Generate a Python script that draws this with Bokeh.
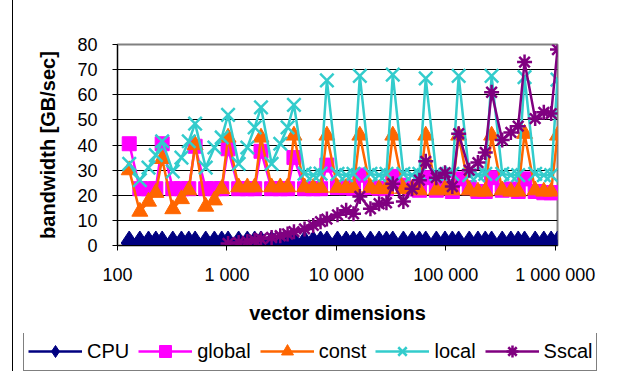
from bokeh.plotting import figure
from bokeh.models import Range1d, FixedTicker, Legend, Div
from bokeh.layouts import column, row
from bokeh.embed import file_html
from bokeh.resources import INLINE

# vector dimensions (x values)
dims = [128, 160, 192, 224, 256, 320, 384, 448, 512, 640, 768, 896,
        1024, 1280, 1536, 1792, 2048, 2560, 3072, 3584, 4096, 5120, 6144, 7168,
        8192, 10240, 12288, 14336, 16384, 20480, 24576, 28672,
        32768, 40960, 49152, 57344, 65536, 81920, 98304, 114688,
        131072, 163840, 196608, 229376, 262144, 327680, 393216, 458752,
        524288, 655360, 786432, 917504, 1048576]

cpu = [1.0, 1.0, 1.0, 1.0, 1.0, 1.0, 1.0, 1.0, 1.0, 1.0, 1.0, 1.0,
       1.0, 1.0, 1.0, 1.0, 1.0, 1.0, 1.0, 1.0, 1.0, 1.0, 1.0, 1.0,
       1.0, 1.0, 1.0, 1.0, 1.0, 1.0, 1.0, 1.0,
       1.0, 1.0, 1.0, 1.0, 1.0, 1.0, 1.0, 1.0,
       1.0, 1.0, 1.0, 1.0, 1.0, 1.0, 1.0, 1.0,
       1.0, 1.0, 1.0, 1.0, 1.0]

global_bw = [40.5, 22.6, 22.6, 22.6, 40.5, 22.6, 22.6, 22.6, 39.5, 22.6, 22.6, 22.6,
             38.5, 22.6, 22.6, 22.6, 37.5, 22.6, 22.6, 22.6, 35.0, 22.6, 22.6, 22.6,
             32.0, 23.0, 23.0, 22.8, 28.0, 23.0, 22.8, 22.6,
             27.5, 24.0, 22.5, 22.0, 27.0, 22.0, 23.0, 21.5,
             26.5, 23.0, 21.5, 21.5, 27.0, 22.0, 22.5, 21.5,
             26.5, 21.5, 21.0, 21.0, 21.0]

const_bw = [30.0, 13.5, 17.5, 21.0, 34.5, 14.5, 18.5, 22.0, 40.0, 15.5, 18.0, 22.5,
            43.0, 23.2, 23.2, 23.2, 43.0, 23.2, 23.2, 23.2, 43.8, 23.2, 23.0, 23.0,
            43.8, 23.0, 23.0, 23.0, 43.8, 23.0, 22.5, 22.5,
            43.8, 22.5, 22.5, 22.0, 43.8, 22.0, 22.5, 22.0,
            43.8, 22.0, 21.5, 21.5, 43.8, 22.0, 21.5, 21.5,
            44.5, 22.0, 21.5, 21.5, 43.8]

local_bw = [32.5, 26.0, 31.0, 36.0, 41.5, 29.5, 35.0, 41.5, 48.5, 31.0, 39.0, 43.0,
            52.0, 32.5, 39.0, 47.0, 55.0, 32.5, 40.5, 47.0, 56.0, 28.6, 28.0, 28.6,
            65.7, 28.5, 28.0, 28.5, 67.5, 28.5, 28.0, 28.5,
            68.0, 28.5, 28.0, 28.5, 66.5, 28.5, 28.0, 28.5,
            67.5, 28.0, 28.0, 28.5, 67.5, 28.5, 28.0, 28.0,
            67.0, 28.5, 28.0, 28.0, 66.0]

sscal_dims = dims[12:]
sscal_bw = [0.8, 1.2, 1.6, 2.1, 2.6, 3.2, 3.9, 4.6, 5.5, 6.6, 8.0, 9.5,
            10.5, 12.2, 14.0, 12.6, 19.5, 14.6, 16.6, 17.0,
            24.6, 17.5, 22.6, 26.0, 33.5, 27.0, 29.0, 23.5,
            44.5, 30.0, 33.0, 37.0, 61.0, 42.0, 45.0, 47.5,
            73.0, 50.5, 53.0, 52.5, 78.0]

series_names = ["CPU", "global", "const", "local", "Sscal"]
x_ticks = [100, 1000, 10000, 100000, 1000000]
x_tick_labels = ["100", "1 000", "10 000", "100 000", "1 000 000"]
y_ticks = [0, 10, 20, 30, 40, 50, 60, 70, 80]

FONT = "Liberation Sans"
COLORS = ["#000080", "#FF00FF", "#FF6600", "#33CCCC", "#800080"]
MARKERS = ["diamond", "square", "triangle", "x", "asterisk"]
SIZES = [24, 14, 16, 19, 15]

p = figure(width=593, height=333, x_axis_type="log",
           x_range=Range1d(100, 1048576), y_range=Range1d(0, 80),
           output_backend="svg", toolbar_location=None,
           min_border_left=104, min_border_right=49,
           min_border_top=44, min_border_bottom=88,
           x_axis_label="vector dimensions", y_axis_label="bandwidth [GB/sec]")
p.frame_align = False

p.background_fill_color = "white"
p.border_fill_color = "white"
p.outline_line_color = "#808080"
p.outline_line_width = 2

p.xgrid.grid_line_color = None
p.ygrid.grid_line_color = "black"
p.ygrid.grid_line_width = 1

p.xaxis.ticker = FixedTicker(ticks=x_ticks)
p.xaxis.major_label_overrides = {t: l for t, l in zip(x_ticks, x_tick_labels)}
p.yaxis.ticker = FixedTicker(ticks=y_ticks)

for ax in (p.xaxis[0], p.yaxis[0]):
    ax.axis_line_color = "black"
    ax.axis_line_width = 1
    ax.major_tick_line_color = "black"
    ax.major_tick_out = 5
    ax.major_tick_in = 0
    ax.minor_tick_line_color = None
    ax.major_label_text_font = FONT
    ax.major_label_text_font_size = "18px"
    ax.major_label_text_color = "black"
    ax.axis_label_text_font = FONT
    ax.axis_label_text_font_size = "20px"
    ax.axis_label_text_font_style = "bold"
    ax.axis_label_text_color = "black"

p.xaxis.major_label_standoff = 14
p.xaxis.axis_label_standoff = 14
p.yaxis.major_label_standoff = 15
p.yaxis.axis_label_standoff = 15

xs = [dims, dims, dims, dims, sscal_dims]
ys = [cpu, global_bw, const_bw, local_bw, sscal_bw]

for x, y, c, mk, sz in zip(xs, ys, COLORS, MARKERS, SIZES):
    p.line(x, y, line_color=c, line_width=2.5)
    if mk in ("x", "asterisk"):
        p.scatter(x, y, marker=mk, size=sz, line_color=c, line_width=2.5)
    else:
        p.scatter(x, y, marker=mk, size=sz, fill_color=c, line_color=c)

# legend strip (its own small plot, proxies are outside the visible range)
pl = figure(width=593, height=38, x_range=Range1d(0, 1), y_range=Range1d(0, 1),
            output_backend="svg", toolbar_location=None,
            min_border_left=0, min_border_right=0, min_border_top=0, min_border_bottom=0)
pl.frame_align = False
pl.axis.visible = False
pl.grid.grid_line_color = None
pl.outline_line_color = None
pl.background_fill_color = "white"
pl.border_fill_color = "white"

items = []
for name, c, mk, sz in zip(series_names, COLORS, MARKERS, SIZES):
    rl = pl.line([-5, -4], [-5, -4], line_color=c, line_width=2.5)
    if mk in ("x", "asterisk"):
        rm = pl.scatter([-5], [-5], marker=mk, size=sz, line_color=c, line_width=2.5)
    else:
        rm = pl.scatter([-5], [-5], marker=mk, size=sz, fill_color=c, line_color=c)
    items.append((name, [rl, rm]))

lg = Legend(items=items, orientation="horizontal", location=(10, 0))
lg.border_line_color = "black"
lg.border_line_width = 1
lg.background_fill_color = "white"
lg.background_fill_alpha = 1.0
lg.label_text_font = FONT
lg.label_text_font_size = "20px"
lg.label_text_color = "black"
lg.glyph_width = 54
lg.glyph_height = 30
lg.label_standoff = 5
lg.spacing = 9
lg.padding = 4
lg.margin = 0
pl.add_layout(lg, "center")

# outer chart-area border on the left
edge = Div(text="", width=12, height=371, margin=0,
           styles={"border-right": "1px solid black", "box-sizing": "content-box"})

layout = row(edge, column(p, pl, spacing=0), spacing=0)
open("out.html", "w").write(file_html(layout, INLINE))
